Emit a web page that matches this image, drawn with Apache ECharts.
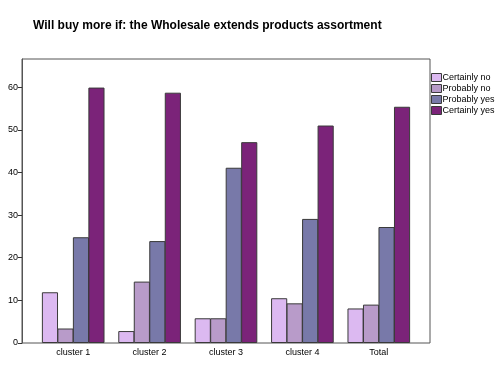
<!DOCTYPE html>
<html>
<head>
<meta charset="utf-8">
<script src="https://cdn.jsdelivr.net/npm/echarts@6/dist/echarts.min.js"></script>
<style>
  html, body { margin: 0; padding: 0; background: #fff; }
  #chart { width: 498px; height: 368px; }
</style>
</head>
<body>
<div id="chart"></div>
<script>
const categories = ['cluster 1', 'cluster 2', 'cluster 3', 'cluster 4', 'Total'];
const certainlyNo = [11.9, 2.8, 5.8, 10.5, 8.1];
const probablyNo = [3.4, 14.4, 5.8, 9.3, 9.0];
const probablyYes = [24.8, 23.9, 41.1, 29.1, 27.2];
const certainlyYes = [59.9, 58.7, 47.1, 51.0, 55.4];
const seriesNames = ['Certainly no', 'Probably no', 'Probably yes', 'Certainly yes'];
const seriesColors = ['#dcb9f1', '#b89bc9', '#7879a9', '#7b2379'];

const chart = echarts.init(document.getElementById('chart'));

const makeBar = (name, data, color) => ({
    name: name,
    type: 'bar',
    xAxisIndex: 1,
    yAxisIndex: 1,
    data: data,
    barGap: '-4%',
    barCategoryGap: '18%',
    itemStyle: { color: color, borderColor: '#3a3a3a', borderWidth: 1 },
    emphasis: { disabled: true }
});

chart.setOption({
    animation: false,
    textStyle: { fontFamily: 'Liberation Sans, Arial, sans-serif' },
    title: {
        text: 'Will buy more if: the Wholesale extends products assortment',
        left: 28,
        top: 15,
        textStyle: { fontSize: 12, fontWeight: 'bold', color: '#000' }
    },
    legend: {
        data: seriesNames,
        orient: 'vertical',
        left: 431,
        top: 73,
        padding: 0,
        itemWidth: 10,
        itemHeight: 8,
        itemGap: 2,
        icon: 'rect',
        itemStyle: { borderColor: '#3a3a3a', borderWidth: 1 },
        textStyle: { fontSize: 9, lineHeight: 8, color: '#000', padding: [0, 0, 0, -4] }
    },
    grid: [
        // outer frame of the plot area
        { left: 22, right: 68, top: 59, bottom: 25, show: true, borderColor: '#555', borderWidth: 1 },
        // inner area where categories sit, padded from the frame
        { left: 35, right: 81, top: 59, bottom: 25 }
    ],
    xAxis: [
        { gridIndex: 0, type: 'value', show: false },
        {
            gridIndex: 1,
            type: 'category',
            data: categories,
            axisLine: { show: false },
            axisTick: { alignWithLabel: true, length: 5, lineStyle: { color: '#333' } },
            axisLabel: { fontSize: 9, color: '#000', margin: 5 }
        }
    ],
    yAxis: [
        { gridIndex: 0, type: 'value', show: false },
        {
            gridIndex: 1,
            type: 'value',
            min: 0,
            max: 66.6,
            interval: 10,
            offset: 13,
            splitLine: { show: false },
            axisLine: { show: true, lineStyle: { color: '#555' } },
            axisTick: { show: true, length: 4, lineStyle: { color: '#333' } },
            axisLabel: { fontSize: 9, color: '#000', margin: 4, showMaxLabel: false }
        }
    ],
    series: [
        makeBar(seriesNames[0], certainlyNo, seriesColors[0]),
        makeBar(seriesNames[1], probablyNo, seriesColors[1]),
        makeBar(seriesNames[2], probablyYes, seriesColors[2]),
        makeBar(seriesNames[3], certainlyYes, seriesColors[3])
    ]
});
</script>
</body>
</html>
